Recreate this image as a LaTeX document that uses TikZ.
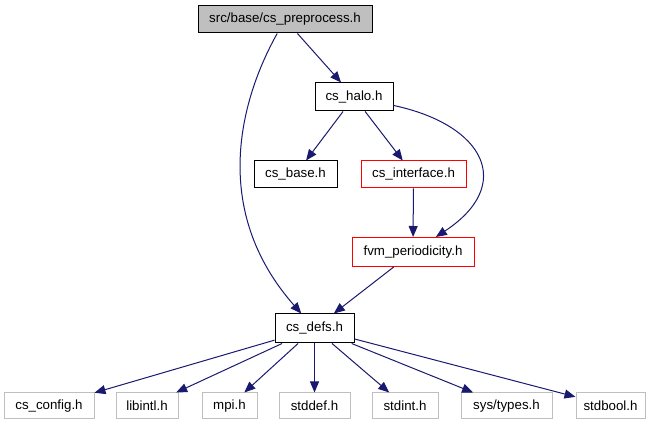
\documentclass[tikz,border=0pt]{standalone}
\usepackage{fontspec}
\setmainfont{Liberation Sans}
\usepackage{xcolor}
\usepackage{tikz}
\usetikzlibrary{arrows.meta}

\definecolor{edgeblue}{HTML}{191970}
\definecolor{graybox}{HTML}{BFBFBF}
\definecolor{redbox}{HTML}{FF0000}

\begin{document}
\begin{tikzpicture}[
  x=1pt,y=-1pt,
  file/.style={draw=black,line width=1pt,fill=white,minimum height=27pt,inner sep=0pt,
    font=\fontsize{13.3}{16}\selectfont},
  linked/.style={file,draw=redbox},
  sysfile/.style={file,draw=graybox,minimum height=26pt},
  edge/.style={draw=edgeblue,line width=1pt,-{Triangle[length=11pt,width=9pt]}}
]
  \useasboundingbox (0,0) rectangle (656,427);

  % top of the graph
  \node[file,fill=graybox,minimum width=174pt] (pre) at (285,19.5) {src/base/cs\_preprocess.h};
  \node[file,minimum width=78pt,minimum height=28pt] (halo) at (354,97) {cs\_halo.h};
  \node[file,minimum width=83pt] (base) at (295.5,174.5) {cs\_base.h};
  \node[linked,minimum width=105pt] (iface) at (413.5,174.5) {cs\_interface.h};
  \node[linked,minimum width=122pt,minimum height=29pt] (fvm) at (413,252) {fvm\_periodicity.h};
  \node[file,minimum width=79pt,minimum height=29pt] (defs) at (314.5,328.5) {cs\_defs.h};

  % system headers
  \node[sysfile,minimum width=90pt] (config) at (49,406) {cs\_config.h};
  \node[sysfile,minimum width=62pt] (libintl) at (147,406) {libintl.h};
  \node[sysfile,minimum width=55pt] (mpi) at (229.5,406) {mpi.h};
  \node[sysfile,minimum width=71pt] (stddef) at (314.5,406) {stddef.h};
  \node[sysfile,minimum width=66pt] (stdint) at (405,406) {stdint.h};
  \node[sysfile,minimum width=91pt] (systypes) at (506.5,406) {sys/types.h};
  \node[sysfile,minimum width=69pt] (stdbool) at (610.5,406) {stdbool.h};

  \draw[edge] (pre) -- (halo);
  \draw[edge] (pre) .. controls (240,100) and (210,210) .. (defs);
  \draw[edge] (halo) -- (base);
  \draw[edge] (halo) -- (iface);
  \draw[edge] (halo) .. controls (485,125) and (515,185) .. (fvm);
  \draw[edge] (iface) -- (fvm);
  \draw[edge] (fvm) -- (defs);
  \foreach \n in {config,libintl,mpi,stddef,stdint,systypes,stdbool}
    \draw[edge] (defs) -- (\n);
\end{tikzpicture}
\end{document}
